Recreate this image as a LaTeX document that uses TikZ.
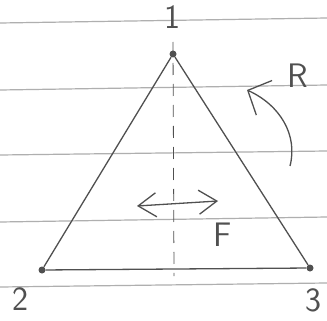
\documentclass[tikz,border=0pt]{standalone}
\usepackage{tikz}
\usetikzlibrary{arrows.meta, positioning}
\definecolor{pencil}{RGB}{80,80,80}
\definecolor{ruleGray}{RGB}{175,175,175}

\begin{document}
\begin{tikzpicture}[x=1pt, y=-1pt,
  vert/.style={circle, fill=pencil, inner sep=0pt, minimum size=7pt},
  lbl/.style={text=pencil, font=\sffamily\fontsize{34}{34}\selectfont, inner sep=0pt},
  edge/.style={draw=pencil, line width=1.3pt},
  arr/.style={{Straight Barb[length=18pt, width=24pt]}-{Straight Barb[length=18pt, width=24pt]}, draw=pencil, line width=1.3pt},
  rot/.style={-{Straight Barb[length=18pt, width=38pt]}, draw=pencil, line width=1.3pt},
  rule/.style={draw=ruleGray, line width=1.2pt}
]
\useasboundingbox (0,0) rectangle (327,321);
\fill[white] (0,0) rectangle (327,321);
% paper lines
\draw[rule] (0,23) -- (327,18);
\draw[rule] (0,90) -- (327,85);
\draw[rule] (0,155) -- (327,151);
\draw[rule] (0,222) -- (327,217);
\draw[rule] (0,287) -- (327,283);
% corners
\node[vert] (v1) at (173,54) {};
\node[vert] (v2) at (42,270) {};
\node[vert] (v3) at (310,268) {};
\node[lbl] (n1) at (172,17) {1};
\node[lbl] (n2) at (20,299) {2};
\node[lbl] (n3) at (313,300) {3};
% triangle
\draw[edge] (v1) -- (v2) -- (v3) -- (v1);
% symmetry axis
\coordinate (axTop) at (173,42);
\coordinate (axBot) at (174,276);
\draw[edge, line width=0.8pt, dash pattern=on 12pt off 9pt] (axTop) -- (axBot);
% flip F
\coordinate (fL) at (137,206);
\coordinate (fR) at (218,201);
\draw[arr] (fL) -- (fR);
\node[lbl] (fTxt) at (223,235) {F};
% rotation R
\coordinate (rS) at (290,166);
\coordinate (rE) at (247,90);
\draw[rot] (rS) .. controls (298,135) and (280,105) .. (rE);
\node[lbl] (rTxt) at (298,76) {R};
\end{tikzpicture}
\end{document}
